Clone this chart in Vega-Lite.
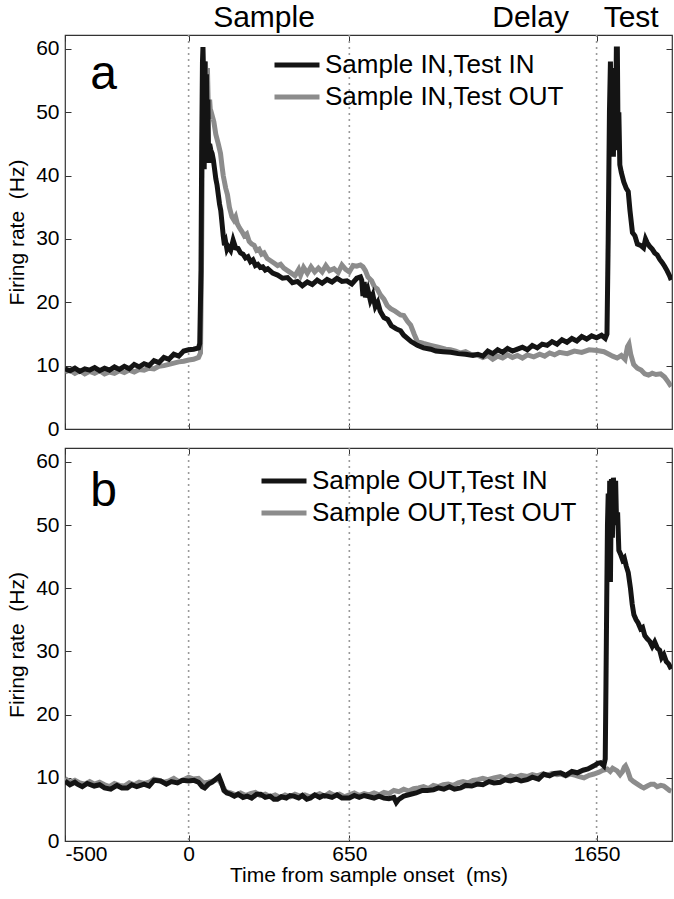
{
  "$schema": "https://vega.github.io/schema/vega-lite/v6.json",
  "padding": {"top": 2, "left": 6, "right": 0, "bottom": 0},
  "spacing": 6,
  "config": {
    "view": {"stroke": "#333", "strokeWidth": 1.2},
    "font": "Liberation Sans",
    "axis": {"domain": false, "grid": false, "minExtent": 0, "tickColor": "#333", "tickWidth": 1, "labelColor": "#000", "titleColor": "#000", "labelFont": "Liberation Sans", "titleFont": "Liberation Sans", "labelFontSize": 21, "titleFontSize": 21, "titleFontWeight": "normal", "labelExpr": "'' + datum.value"},
    "legend": {"labelFont": "Liberation Sans", "labelFontSize": 26, "labelColor": "#000", "labelLimit": 0, "symbolType": "stroke", "symbolSize": 2025, "symbolStrokeWidth": 5, "clipHeight": 32, "rowPadding": 0, "labelOffset": 3, "title": null}
  },
  "resolve": {"scale": {"color": "independent"}},
  "datasets": {
    "a1": [
      {"t":-500,"r":9.5},{"t":-480,"r":9.2},{"t":-460,"r":9.6},{"t":-440,"r":9.1},{"t":-420,"r":9.5},{"t":-400,"r":9.3},{"t":-380,"r":9.7},{"t":-360,"r":9.2},{"t":-340,"r":9.6},{"t":-320,"r":9.3},{"t":-300,"r":9.8},{"t":-280,"r":9.4},{"t":-260,"r":9.9},{"t":-240,"r":9.5},{"t":-220,"r":10.2},{"t":-200,"r":9.8},{"t":-180,"r":10.3},{"t":-160,"r":10.0},{"t":-140,"r":10.8},{"t":-120,"r":10.5},{"t":-100,"r":11.3},{"t":-80,"r":11.0},{"t":-60,"r":11.8},{"t":-40,"r":11.5},{"t":-20,"r":12.3},{"t":0,"r":12.5},{"t":20,"r":12.6},{"t":40,"r":12.8},{"t":45,"r":13.5},{"t":50,"r":25},{"t":53,"r":45},{"t":56,"r":58},{"t":58,"r":60.3},{"t":61,"r":55},{"t":63,"r":41},{"t":66,"r":58},{"t":69,"r":43},{"t":72,"r":56},{"t":75,"r":47},{"t":78,"r":52},{"t":81,"r":42},{"t":85,"r":45},{"t":90,"r":44},{"t":95,"r":43.5},{"t":100,"r":42.5},{"t":105,"r":41},{"t":110,"r":39.5},{"t":115,"r":38.5},{"t":120,"r":37},{"t":125,"r":35.5},{"t":130,"r":34.5},{"t":135,"r":32.5},{"t":140,"r":30.5},{"t":145,"r":29},{"t":150,"r":29.5},{"t":155,"r":28.4},{"t":160,"r":28.8},{"t":170,"r":28.2},{"t":180,"r":29.8},{"t":190,"r":28.6},{"t":200,"r":28.5},{"t":210,"r":27.8},{"t":220,"r":27.6},{"t":230,"r":27.0},{"t":240,"r":27.2},{"t":250,"r":26.4},{"t":260,"r":26.7},{"t":270,"r":25.8},{"t":280,"r":26.0},{"t":290,"r":25.5},{"t":300,"r":25.6},{"t":310,"r":25.1},{"t":320,"r":25.3},{"t":340,"r":24.6},{"t":360,"r":24.3},{"t":380,"r":23.8},{"t":400,"r":23.9},{"t":420,"r":23.1},{"t":440,"r":23.3},{"t":460,"r":22.6},{"t":480,"r":23.2},{"t":500,"r":22.8},{"t":520,"r":23.5},{"t":540,"r":23.0},{"t":560,"r":23.6},{"t":580,"r":23.2},{"t":600,"r":23.8},{"t":620,"r":23.3},{"t":640,"r":23.4},{"t":660,"r":22.9},{"t":680,"r":23.8},{"t":695,"r":24.0},{"t":700,"r":23.5},{"t":705,"r":21.0},{"t":710,"r":23.2},{"t":715,"r":20.8},{"t":725,"r":22.0},{"t":735,"r":20.3},{"t":745,"r":21.2},{"t":755,"r":19.3},{"t":765,"r":20.0},{"t":775,"r":18.6},{"t":790,"r":17.6},{"t":805,"r":17.3},{"t":820,"r":16.3},{"t":840,"r":15.8},{"t":857,"r":15.5},{"t":870,"r":14.8},{"t":885,"r":14.3},{"t":900,"r":13.8},{"t":925,"r":13.2},{"t":950,"r":12.8},{"t":979,"r":12.6},{"t":1000,"r":12.3},{"t":1030,"r":12.2},{"t":1060,"r":12.1},{"t":1090,"r":11.9},{"t":1120,"r":11.8},{"t":1150,"r":11.6},{"t":1170,"r":11.8},{"t":1190,"r":11.5},{"t":1210,"r":12.3},{"t":1230,"r":11.9},{"t":1250,"r":12.5},{"t":1270,"r":12.1},{"t":1290,"r":12.7},{"t":1310,"r":12.3},{"t":1330,"r":12.6},{"t":1350,"r":12.9},{"t":1370,"r":12.5},{"t":1390,"r":13.2},{"t":1410,"r":12.8},{"t":1430,"r":13.4},{"t":1450,"r":13.2},{"t":1470,"r":13.8},{"t":1490,"r":13.4},{"t":1510,"r":14.1},{"t":1530,"r":13.7},{"t":1550,"r":14.3},{"t":1570,"r":13.9},{"t":1590,"r":14.6},{"t":1610,"r":14.2},{"t":1630,"r":14.7},{"t":1650,"r":14.4},{"t":1670,"r":14.8},{"t":1685,"r":14.3},{"t":1692,"r":15},{"t":1697,"r":30},{"t":1702,"r":50},{"t":1706,"r":58},{"t":1710,"r":45},{"t":1714,"r":57},{"t":1718,"r":43},{"t":1722,"r":55},{"t":1726,"r":44},{"t":1730,"r":60},{"t":1734,"r":60},{"t":1737,"r":45},{"t":1740,"r":50},{"t":1744,"r":41.7},{"t":1750,"r":40.5},{"t":1760,"r":39},{"t":1770,"r":38},{"t":1778,"r":37.5},{"t":1785,"r":34.5},{"t":1795,"r":31},{"t":1805,"r":30.5},{"t":1815,"r":29.2},{"t":1828,"r":29},{"t":1840,"r":28.6},{"t":1848,"r":30},{"t":1855,"r":29.4},{"t":1865,"r":28.8},{"t":1875,"r":28.4},{"t":1885,"r":27.8},{"t":1895,"r":27.5},{"t":1905,"r":26.8},{"t":1915,"r":26.3},{"t":1925,"r":25.7},{"t":1935,"r":25.0},{"t":1945,"r":24.2},{"t":1952,"r":23.5}
    ],
    "a2": [
      {"t":-500,"r":9.0},{"t":-480,"r":9.3},{"t":-460,"r":8.8},{"t":-440,"r":9.2},{"t":-420,"r":8.7},{"t":-400,"r":9.1},{"t":-380,"r":8.8},{"t":-360,"r":9.2},{"t":-340,"r":8.7},{"t":-320,"r":9.0},{"t":-300,"r":8.8},{"t":-280,"r":9.2},{"t":-260,"r":8.9},{"t":-240,"r":9.3},{"t":-220,"r":9.0},{"t":-200,"r":9.4},{"t":-180,"r":9.3},{"t":-160,"r":9.6},{"t":-140,"r":9.5},{"t":-120,"r":9.9},{"t":-100,"r":10.0},{"t":-80,"r":10.2},{"t":-60,"r":10.4},{"t":-40,"r":10.6},{"t":-20,"r":10.7},{"t":0,"r":10.9},{"t":20,"r":11.0},{"t":40,"r":11.3},{"t":48,"r":12},{"t":52,"r":25},{"t":56,"r":45},{"t":60,"r":55},{"t":64,"r":57.5},{"t":68,"r":58},{"t":72,"r":52},{"t":76,"r":57},{"t":80,"r":50},{"t":85,"r":52},{"t":90,"r":49},{"t":95,"r":49.5},{"t":102,"r":48.5},{"t":110,"r":46.5},{"t":120,"r":45},{"t":129,"r":43.5},{"t":135,"r":41.5},{"t":140,"r":40},{"t":150,"r":38},{"t":157,"r":37},{"t":165,"r":35},{"t":175,"r":33.5},{"t":183,"r":33},{"t":190,"r":33.5},{"t":197,"r":32.4},{"t":205,"r":31.8},{"t":215,"r":31.2},{"t":225,"r":30.5},{"t":235,"r":30.8},{"t":245,"r":29.6},{"t":255,"r":29.2},{"t":265,"r":29.0},{"t":275,"r":28.2},{"t":285,"r":28.4},{"t":295,"r":27.6},{"t":305,"r":27.8},{"t":318,"r":26.9},{"t":330,"r":26.6},{"t":345,"r":26.2},{"t":360,"r":25.8},{"t":372,"r":26.0},{"t":385,"r":25.4},{"t":400,"r":25.0},{"t":415,"r":24.6},{"t":430,"r":24.2},{"t":445,"r":25.2},{"t":453,"r":24.3},{"t":465,"r":25.5},{"t":480,"r":24.6},{"t":495,"r":25.6},{"t":510,"r":24.8},{"t":525,"r":25.4},{"t":540,"r":24.8},{"t":555,"r":25.8},{"t":570,"r":25.0},{"t":588,"r":25.3},{"t":605,"r":24.7},{"t":620,"r":25.9},{"t":635,"r":25.2},{"t":650,"r":24.8},{"t":665,"r":25.8},{"t":680,"r":25.7},{"t":695,"r":25.9},{"t":705,"r":25.6},{"t":715,"r":25.0},{"t":725,"r":24.0},{"t":740,"r":23.4},{"t":752,"r":22.4},{"t":763,"r":22.1},{"t":775,"r":21.2},{"t":790,"r":20.5},{"t":803,"r":19.5},{"t":817,"r":19.0},{"t":835,"r":18.6},{"t":857,"r":18.0},{"t":870,"r":17.9},{"t":885,"r":17.0},{"t":898,"r":16.4},{"t":912,"r":15.0},{"t":925,"r":13.8},{"t":950,"r":13.5},{"t":979,"r":13.2},{"t":1010,"r":12.9},{"t":1040,"r":12.6},{"t":1059,"r":12.5},{"t":1080,"r":12.3},{"t":1100,"r":12.0},{"t":1120,"r":12.2},{"t":1140,"r":11.8},{"t":1167,"r":11.7},{"t":1190,"r":11.3},{"t":1210,"r":11.6},{"t":1230,"r":11.0},{"t":1250,"r":11.5},{"t":1270,"r":11.2},{"t":1290,"r":11.7},{"t":1310,"r":11.3},{"t":1330,"r":11.6},{"t":1350,"r":11.2},{"t":1370,"r":11.7},{"t":1396,"r":11.4},{"t":1420,"r":11.8},{"t":1440,"r":11.5},{"t":1460,"r":12.0},{"t":1480,"r":11.7},{"t":1500,"r":12.1},{"t":1531,"r":11.9},{"t":1560,"r":12.3},{"t":1590,"r":12.1},{"t":1620,"r":12.5},{"t":1652,"r":12.4},{"t":1680,"r":12.2},{"t":1700,"r":11.8},{"t":1715,"r":11.5},{"t":1733,"r":11.2},{"t":1750,"r":11.6},{"t":1765,"r":11.0},{"t":1775,"r":13.0},{"t":1781,"r":13.4},{"t":1788,"r":11.8},{"t":1800,"r":10.2},{"t":1815,"r":9.6},{"t":1830,"r":9.3},{"t":1845,"r":8.7},{"t":1860,"r":8.5},{"t":1875,"r":8.8},{"t":1890,"r":8.6},{"t":1909,"r":8.7},{"t":1925,"r":8.2},{"t":1940,"r":7.4},{"t":1952,"r":6.7}
    ],
    "b1": [
      {"t":-500,"r":9.5},{"t":-480,"r":8.9},{"t":-460,"r":9.3},{"t":-450,"r":9.0},{"t":-430,"r":8.6},{"t":-410,"r":9.1},{"t":-382,"r":8.7},{"t":-360,"r":8.9},{"t":-340,"r":8.4},{"t":-315,"r":8.2},{"t":-290,"r":8.8},{"t":-270,"r":8.4},{"t":-248,"r":8.4},{"t":-230,"r":8.9},{"t":-210,"r":8.6},{"t":-180,"r":9.0},{"t":-160,"r":8.7},{"t":-140,"r":9.6},{"t":-113,"r":9.5},{"t":-90,"r":9.0},{"t":-70,"r":9.4},{"t":-45,"r":9.2},{"t":-25,"r":9.6},{"t":0,"r":9.5},{"t":22,"r":9.6},{"t":40,"r":9.3},{"t":55,"r":8.6},{"t":65,"r":8.4},{"t":80,"r":9.0},{"t":95,"r":9.3},{"t":110,"r":9.8},{"t":123,"r":10.2},{"t":133,"r":9.2},{"t":143,"r":8.0},{"t":155,"r":7.6},{"t":170,"r":7.4},{"t":185,"r":7.1},{"t":200,"r":7.4},{"t":220,"r":6.9},{"t":237,"r":7.1},{"t":255,"r":6.8},{"t":275,"r":7.4},{"t":291,"r":7.4},{"t":310,"r":6.9},{"t":330,"r":7.1},{"t":345,"r":6.6},{"t":359,"r":6.6},{"t":375,"r":7.0},{"t":395,"r":6.8},{"t":410,"r":7.2},{"t":426,"r":7.1},{"t":445,"r":6.8},{"t":460,"r":7.2},{"t":478,"r":6.6},{"t":493,"r":6.8},{"t":510,"r":7.3},{"t":530,"r":6.9},{"t":545,"r":7.2},{"t":561,"r":7.1},{"t":580,"r":6.9},{"t":600,"r":7.3},{"t":620,"r":6.8},{"t":650,"r":6.8},{"t":670,"r":7.2},{"t":690,"r":6.9},{"t":710,"r":7.2},{"t":730,"r":7.0},{"t":750,"r":6.8},{"t":770,"r":7.1},{"t":790,"r":6.8},{"t":810,"r":6.7},{"t":830,"r":6.9},{"t":840,"r":6.1},{"t":850,"r":6.6},{"t":870,"r":7.1},{"t":898,"r":7.4},{"t":920,"r":7.6},{"t":945,"r":8.0},{"t":965,"r":8.0},{"t":990,"r":8.1},{"t":1010,"r":8.4},{"t":1032,"r":8.2},{"t":1055,"r":8.6},{"t":1075,"r":8.2},{"t":1100,"r":8.4},{"t":1120,"r":8.8},{"t":1145,"r":8.7},{"t":1167,"r":9.0},{"t":1190,"r":8.9},{"t":1215,"r":9.4},{"t":1235,"r":9.2},{"t":1260,"r":9.3},{"t":1280,"r":9.7},{"t":1302,"r":9.5},{"t":1325,"r":9.8},{"t":1345,"r":9.5},{"t":1369,"r":9.7},{"t":1390,"r":10.1},{"t":1415,"r":9.8},{"t":1437,"r":10.6},{"t":1460,"r":10.3},{"t":1480,"r":10.7},{"t":1504,"r":10.8},{"t":1525,"r":10.4},{"t":1550,"r":11.0},{"t":1572,"r":10.8},{"t":1595,"r":11.2},{"t":1615,"r":11.4},{"t":1639,"r":11.9},{"t":1655,"r":12.3},{"t":1666,"r":12.4},{"t":1679,"r":11.9},{"t":1685,"r":13},{"t":1688,"r":25},{"t":1691,"r":38},{"t":1694,"r":50},{"t":1697,"r":55},{"t":1700,"r":44},{"t":1703,"r":57},{"t":1706,"r":41},{"t":1710,"r":57.3},{"t":1714,"r":48},{"t":1718,"r":57.5},{"t":1722,"r":55},{"t":1727,"r":57},{"t":1731,"r":50},{"t":1735,"r":52},{"t":1740,"r":46},{"t":1747,"r":45.4},{"t":1755,"r":44.5},{"t":1762,"r":44.8},{"t":1770,"r":43.5},{"t":1778,"r":42.5},{"t":1787,"r":40},{"t":1794,"r":37.5},{"t":1801,"r":35.8},{"t":1810,"r":35},{"t":1818,"r":34.5},{"t":1828,"r":33.6},{"t":1836,"r":33.8},{"t":1845,"r":32.5},{"t":1855,"r":32},{"t":1865,"r":31.6},{"t":1875,"r":30.8},{"t":1885,"r":31.5},{"t":1896,"r":30.5},{"t":1905,"r":30.2},{"t":1913,"r":29.0},{"t":1922,"r":29.5},{"t":1932,"r":28.4},{"t":1942,"r":28.0},{"t":1952,"r":27.2}
    ],
    "b2": [
      {"t":-500,"r":9.9},{"t":-480,"r":9.3},{"t":-460,"r":9.6},{"t":-440,"r":9.2},{"t":-420,"r":9.0},{"t":-400,"r":9.4},{"t":-380,"r":9.0},{"t":-360,"r":9.3},{"t":-340,"r":8.9},{"t":-320,"r":8.6},{"t":-300,"r":9.1},{"t":-280,"r":8.8},{"t":-260,"r":8.7},{"t":-240,"r":9.2},{"t":-220,"r":8.9},{"t":-200,"r":9.3},{"t":-180,"r":9.1},{"t":-160,"r":9.3},{"t":-140,"r":9.8},{"t":-120,"r":9.6},{"t":-100,"r":9.3},{"t":-80,"r":9.5},{"t":-60,"r":9.9},{"t":-40,"r":9.4},{"t":-20,"r":9.7},{"t":0,"r":10.1},{"t":20,"r":9.8},{"t":40,"r":9.9},{"t":60,"r":9.2},{"t":80,"r":9.3},{"t":100,"r":9.5},{"t":120,"r":9.8},{"t":135,"r":8.9},{"t":150,"r":7.8},{"t":170,"r":7.6},{"t":190,"r":7.3},{"t":210,"r":7.6},{"t":230,"r":7.2},{"t":250,"r":7.5},{"t":270,"r":7.7},{"t":290,"r":7.2},{"t":310,"r":7.4},{"t":330,"r":7.0},{"t":350,"r":7.3},{"t":370,"r":6.9},{"t":390,"r":7.3},{"t":410,"r":7.0},{"t":430,"r":7.4},{"t":450,"r":7.1},{"t":470,"r":7.3},{"t":490,"r":7.0},{"t":510,"r":7.2},{"t":530,"r":7.5},{"t":550,"r":7.1},{"t":570,"r":7.6},{"t":590,"r":7.2},{"t":610,"r":7.4},{"t":630,"r":7.0},{"t":650,"r":7.3},{"t":670,"r":7.6},{"t":690,"r":7.2},{"t":710,"r":7.5},{"t":730,"r":7.3},{"t":750,"r":7.6},{"t":770,"r":7.3},{"t":790,"r":7.7},{"t":810,"r":7.5},{"t":830,"r":8.0},{"t":850,"r":7.8},{"t":870,"r":8.2},{"t":890,"r":7.9},{"t":910,"r":8.3},{"t":930,"r":8.4},{"t":950,"r":8.6},{"t":970,"r":8.3},{"t":990,"r":8.8},{"t":1010,"r":8.6},{"t":1030,"r":8.9},{"t":1050,"r":9.0},{"t":1070,"r":8.8},{"t":1090,"r":9.2},{"t":1110,"r":9.4},{"t":1130,"r":9.2},{"t":1150,"r":9.6},{"t":1170,"r":9.7},{"t":1190,"r":9.9},{"t":1210,"r":9.7},{"t":1235,"r":10.0},{"t":1260,"r":10.2},{"t":1280,"r":9.9},{"t":1302,"r":10.3},{"t":1325,"r":10.1},{"t":1345,"r":10.4},{"t":1369,"r":10.2},{"t":1390,"r":10.5},{"t":1410,"r":10.3},{"t":1430,"r":10.6},{"t":1450,"r":10.4},{"t":1470,"r":10.7},{"t":1490,"r":10.5},{"t":1504,"r":10.6},{"t":1525,"r":10.3},{"t":1545,"r":10.6},{"t":1565,"r":10.4},{"t":1580,"r":10.2},{"t":1599,"r":10.0},{"t":1620,"r":10.4},{"t":1639,"r":10.6},{"t":1660,"r":10.9},{"t":1675,"r":11.2},{"t":1693,"r":11.4},{"t":1705,"r":11.0},{"t":1715,"r":11.5},{"t":1733,"r":11.1},{"t":1745,"r":10.5},{"t":1755,"r":11.0},{"t":1762,"r":11.7},{"t":1767,"r":11.9},{"t":1775,"r":11.2},{"t":1787,"r":9.8},{"t":1800,"r":9.4},{"t":1815,"r":9.0},{"t":1830,"r":8.6},{"t":1841,"r":8.4},{"t":1855,"r":8.7},{"t":1870,"r":9.0},{"t":1882,"r":9.0},{"t":1895,"r":8.6},{"t":1910,"r":8.8},{"t":1922,"r":8.7},{"t":1935,"r":8.3},{"t":1945,"r":8.0},{"t":1952,"r":7.9}
    ]
  },
  "vconcat": [
    {
      "width": 607,
      "height": 394,
      "resolve": {"axis": {"x": "independent", "y": "independent"}},
      "layer": [
        {
          "data": {"values": [{"t": 0}, {"t": 650}, {"t": 1650}]},
          "mark": {"type": "rule", "color": "#9a9a9a", "strokeDash": [2, 4], "strokeWidth": 1.6},
          "encoding": {
            "x": {"field": "t", "type": "quantitative", "scale": {"domain": [-500, 1955], "nice": false, "zero": false},
              "axis": {"orient": "top", "values": [-500, 0, 650, 1650], "labels": false, "tickSize": -6, "title": null}}
          }
        },
        {
          "data": {"name": "a2"},
          "mark": {"type": "line", "strokeWidth": 5, "clip": true},
          "encoding": {
            "x": {"field": "t", "type": "quantitative", "scale": {"domain": [-500, 1955], "nice": false, "zero": false},
              "axis": {"orient": "bottom", "values": [-500, 0, 650, 1650], "labels": false, "tickSize": -6, "title": null}},
            "y": {"field": "r", "type": "quantitative", "scale": {"domain": [0, 62.2], "nice": false},
              "axis": {"orient": "left", "values": [0, 10, 20, 30, 40, 50, 60], "tickSize": -6, "labelPadding": 12, "title": "Firing rate \u00a0(Hz)", "titlePadding": 8}},
            "color": {"datum": "Sample IN,Test OUT", "type": "nominal",
              "scale": {"domain": ["Sample IN,Test IN", "Sample IN,Test OUT"], "range": ["#141414", "#8c8c8c"]},
              "legend": {"orient": "none", "legendX": 207, "legendY": 14}}
          }
        },
        {
          "data": {"name": "a1"},
          "mark": {"type": "line", "strokeWidth": 5, "clip": true},
          "encoding": {
            "x": {"field": "t", "type": "quantitative", "axis": null},
            "y": {"field": "r", "type": "quantitative", "axis": null},
            "color": {"datum": "Sample IN,Test IN", "type": "nominal",
              "legend": {"orient": "none", "legendX": 207, "legendY": 14}}
          }
        },
        {
          "data": {"values": [{"t": -344, "r": 53.6, "label": "a"}]},
          "mark": {"type": "text", "fontSize": 48, "align": "center", "baseline": "alphabetic", "color": "#000"},
          "encoding": {
            "x": {"field": "t", "type": "quantitative", "axis": null},
            "y": {"field": "r", "type": "quantitative",
              "axis": {"orient": "right", "values": [0, 10, 20, 30, 40, 50, 60], "labels": false, "tickSize": -6, "title": null}},
            "text": {"field": "label"}
          }
        },
        {
          "data": {"values": [{"t": 305, "r": 63.5, "label": "Sample"}, {"t": 1383, "r": 63.5, "label": "Delay"}, {"t": 1790, "r": 63.5, "label": "Test"}]},
          "mark": {"type": "text", "fontSize": 30, "align": "center", "baseline": "alphabetic", "color": "#000"},
          "encoding": {
            "x": {"field": "t", "type": "quantitative", "axis": null},
            "y": {"field": "r", "type": "quantitative", "axis": null},
            "text": {"field": "label"}
          }
        }
      ]
    },
    {
      "width": 607,
      "height": 393,
      "resolve": {"axis": {"x": "independent", "y": "independent"}},
      "layer": [
        {
          "data": {"values": [{"t": 0}, {"t": 650}, {"t": 1650}]},
          "mark": {"type": "rule", "color": "#9a9a9a", "strokeDash": [2, 4], "strokeWidth": 1.6},
          "encoding": {
            "x": {"field": "t", "type": "quantitative", "scale": {"domain": [-500, 1955], "nice": false, "zero": false},
              "axis": {"orient": "top", "values": [-500, 0, 650, 1650], "labels": false, "tickSize": -6, "title": null}}
          }
        },
        {
          "data": {"name": "b2"},
          "mark": {"type": "line", "strokeWidth": 5, "clip": true},
          "encoding": {
            "x": {"field": "t", "type": "quantitative", "scale": {"domain": [-500, 1955], "nice": false, "zero": false},
              "axis": {"orient": "bottom", "values": [-500, 0, 650, 1650], "tickSize": -6, "labelPadding": 8, "title": "Time from sample onset \u00a0(ms)", "titlePadding": 0}},
            "y": {"field": "r", "type": "quantitative", "scale": {"domain": [0, 62.2], "nice": false},
              "axis": {"orient": "left", "values": [0, 10, 20, 30, 40, 50, 60], "tickSize": -6, "labelPadding": 12, "title": "Firing rate \u00a0(Hz)", "titlePadding": 8}},
            "color": {"datum": "Sample OUT,Test OUT", "type": "nominal",
              "scale": {"domain": ["Sample OUT,Test IN", "Sample OUT,Test OUT"], "range": ["#141414", "#8c8c8c"]},
              "legend": {"orient": "none", "legendX": 194, "legendY": 17}}
          }
        },
        {
          "data": {"name": "b1"},
          "mark": {"type": "line", "strokeWidth": 5, "clip": true},
          "encoding": {
            "x": {"field": "t", "type": "quantitative", "axis": null},
            "y": {"field": "r", "type": "quantitative", "axis": null},
            "color": {"datum": "Sample OUT,Test IN", "type": "nominal",
              "legend": {"orient": "none", "legendX": 194, "legendY": 17}}
          }
        },
        {
          "data": {"values": [{"t": -344, "r": 53.0, "label": "b"}]},
          "mark": {"type": "text", "fontSize": 48, "align": "center", "baseline": "alphabetic", "color": "#000"},
          "encoding": {
            "x": {"field": "t", "type": "quantitative", "axis": null},
            "y": {"field": "r", "type": "quantitative",
              "axis": {"orient": "right", "values": [0, 10, 20, 30, 40, 50, 60], "labels": false, "tickSize": -6, "title": null}},
            "text": {"field": "label"}
          }
        }
      ]
    }
  ]
}
